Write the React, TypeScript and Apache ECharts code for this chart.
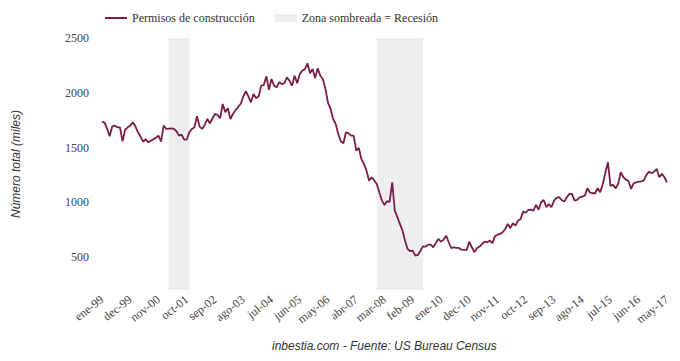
import React, { useEffect, useRef } from "react";
import * as echarts from "echarts";

const monthNames = ["ene", "feb", "mar", "abr", "may", "jun", "jul", "ago", "sep", "oct", "nov", "dec"];
const startYear = 1999;
const pointCount = 221;

const categories: string[] = [];
for (let i = 0; i < pointCount; i++) {
  const y = startYear + Math.floor(i / 12);
  categories.push(monthNames[i % 12] + "-" + String(y % 100).padStart(2, "0"));
}

const permits: number[] = [
  1736, 1727, 1670, 1603, 1694, 1700, 1685, 1685, 1557, 1663, 1685, 1700,
  1731, 1694, 1640, 1600, 1554, 1576, 1548, 1563, 1575, 1590, 1609, 1554,
  1700, 1670, 1673, 1676, 1670, 1649, 1609, 1618, 1572, 1572, 1640, 1670,
  1685, 1786, 1691, 1670, 1706, 1761, 1722, 1765, 1807, 1797, 1767, 1898,
  1822, 1859, 1761, 1807, 1840, 1870, 1900, 1964, 2014, 1968, 1913, 1989,
  1950, 1968, 2065, 2071, 2150, 2028, 2126, 2065, 2050, 2096, 2080, 2087,
  2141, 2110, 2065, 2156, 2087, 2172, 2202, 2217, 2269, 2178, 2217, 2135,
  2223, 2156, 2126, 2035, 1907, 1855, 1761, 1715, 1624, 1557, 1539, 1640,
  1630, 1609, 1609, 1472, 1496, 1396, 1350, 1289, 1198, 1229, 1200, 1168,
  1090, 1016, 976, 1010, 1005, 1183, 924, 864, 803, 742, 650, 575,
  554, 560, 514, 520, 559, 599, 596, 614, 614, 590, 630, 666,
  641, 660, 696, 636, 581, 590, 584, 584, 568, 566, 566, 641,
  590, 545, 581, 596, 620, 641, 636, 651, 627, 690, 705, 712,
  727, 757, 803, 764, 809, 787, 833, 849, 915, 905, 931, 933,
  924, 976, 933, 1001, 1022, 955, 985, 955, 1016, 1040, 1047, 1022,
  1007, 1047, 1077, 1077, 1016, 1022, 1045, 1052, 1061, 1129, 1090, 1083,
  1083, 1129, 1092, 1168, 1270, 1366, 1150, 1159, 1129, 1170, 1275, 1229,
  1207, 1195, 1122, 1174, 1183, 1189, 1192, 1200, 1250, 1280, 1265, 1280,
  1305, 1229, 1260, 1229, 1183,
];

const recessions: [string, string][] = [
  ["mar-01", "nov-01"],
  ["dec-07", "jun-09"],
];

const yTicks = [500, 1000, 1500, 2000, 2500];

const seriesName = "Permisos de construcción";
const recessionName = "Zona sombreada = Recesión";
const yAxisTitle = "Número total (miles)";
const footer = "inbestia.com - Fuente: US Bureau Census";

export default function App() {
  const ref = useRef<HTMLDivElement>(null);
  useEffect(() => {
    if (!ref.current) return;
    const chart = echarts.init(ref.current, undefined, { renderer: "svg" });
    const lineColor = "#7b1c4b";
    const shade = "#eeeeee";
    chart.setOption({
      animation: false,
      backgroundColor: "#ffffff",
      title: {
        text: footer,
        left: 272,
        top: 340,
        padding: 0,
        textStyle: {
          fontFamily: "Liberation Sans",
          fontStyle: "italic",
          fontWeight: "normal",
          fontSize: 12,
          color: "#333",
        },
      },
      legend: {
        left: 100,
        top: 7,
        itemGap: 20,
        itemWidth: 22,
        itemHeight: 8,
        textStyle: { fontFamily: "Liberation Serif", fontSize: 12, color: "#333" },
        data: [
          {
            name: seriesName,
            icon: "path://M0,0L22,0L22,2L0,2Z",
            itemStyle: { color: lineColor },
          },
          { name: recessionName, icon: "rect", itemStyle: { color: shade } },
        ],
      },
      grid: { left: 102, right: 13, top: 38, bottom: 71 },
      xAxis: {
        type: "category",
        data: categories,
        boundaryGap: false,
        axisLine: { show: false },
        axisTick: { show: false },
        splitLine: { show: false },
        axisLabel: {
          interval: 10,
          rotate: 38,
          margin: 8,
          fontFamily: "Liberation Serif",
          fontSize: 12,
          color: "#444",
        },
      },
      yAxis: {
        type: "value",
        min: 200,
        max: 2500,
        splitNumber: 5,
        axisLine: { show: false },
        axisTick: { show: false },
        splitLine: { show: false },
        name: yAxisTitle,
        nameLocation: "middle",
        nameRotate: 90,
        nameGap: 80,
        nameTextStyle: {
          fontFamily: "Liberation Sans",
          fontStyle: "italic",
          fontSize: 12,
          color: "#333",
        },
        axisLabel: {
          showMinLabel: false,
          margin: 13,
          fontFamily: "Liberation Serif",
          fontSize: 12,
          color: "#444",
          formatter: (v: number) => (yTicks.includes(v) ? String(v) : ""),
        },
      },
      series: [
        {
          name: recessionName,
          type: "line",
          data: [],
          itemStyle: { color: shade },
          lineStyle: { color: shade },
          symbol: "none",
          silent: true,
          markArea: {
            silent: true,
            itemStyle: { color: shade },
            data: recessions.map(([a, b]) => [{ xAxis: a }, { xAxis: b }]),
          },
        },
        {
          name: seriesName,
          type: "line",
          data: permits,
          symbol: "none",
          itemStyle: { color: lineColor },
          lineStyle: { color: lineColor, width: 1.8 },
          z: 3,
        },
      ],
    });
    return () => chart.dispose();
  }, []);
  return (
    <div
      ref={ref}
      style={{ position: "fixed", left: 0, top: 0, width: 680, height: 361, background: "#fff" }}
    />
  );
}
